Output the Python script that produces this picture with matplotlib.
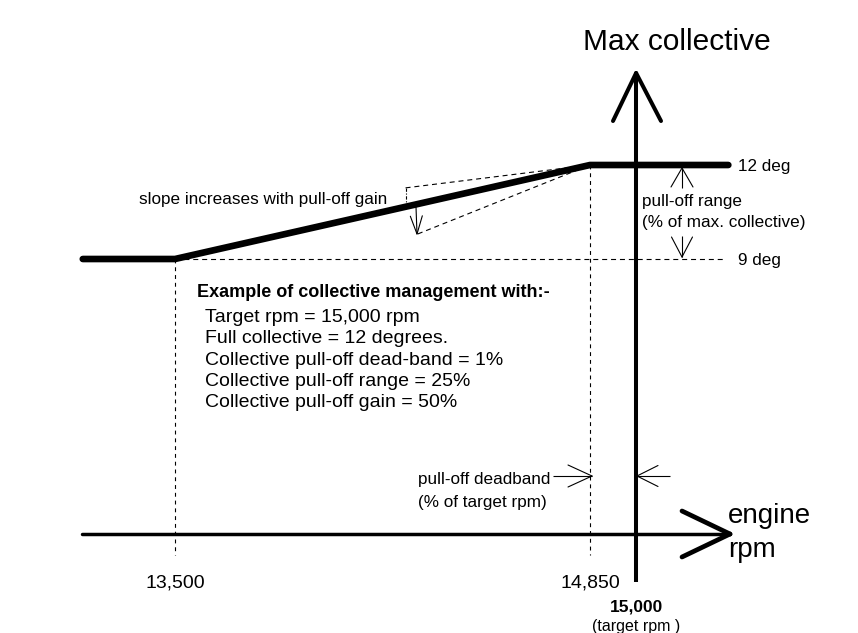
import numpy as np
import matplotlib
matplotlib.use("Agg")
import matplotlib.pyplot as plt

plt.rcParams['font.family'] = ['Liberation Sans', 'DejaVu Sans']

# --- data (rpm / degrees) ---
curve_rpm = [13200, 13500, 14850, 15300]
curve_deg = [9, 9, 12, 12]

target_rpm = 15000
deadband_rpm = 14850
slope_start_rpm = 13500
full_deg = 12
range_deg = 9

# alternative slopes (dashed), start points; both end at (deadband_rpm, full_deg)
alt_rpm = [14250, 14290]
alt_deg = [11.27, 9.80]

tick_rpm = [13500, 14850]
tick_labels = ['13,500', '14,850']
deg_levels = [12, 9]
deg_labels = ['12 deg', '9 deg']

example_title = "Example of collective management with:-"
example_lines = [
    "Target rpm = 15,000 rpm",
    "Full collective = 12 degrees.",
    "Collective pull-off dead-band = 1%",
    "Collective pull-off range = 25%",
    "Collective pull-off gain = 50%",
]

# --- layout: pixel <-> data mapping (axes fills the whole figure) ---
W, H = 858, 633
RPM_PER_PX = (14850 - 13500) / (590 - 175)
DEG_PER_PX = (12 - 9) / (259 - 165)


def px(xp):
    return 13500 + (xp - 175) * RPM_PER_PX


def py(yp):
    return 9 + (259 - yp) * DEG_PER_PX


AXIS_DEG = py(534)
GUIDE_BOTTOM = py(555)

fig = plt.figure(figsize=(W / 100, H / 100), dpi=100)
ax = fig.add_axes([0, 0, 1, 1])
ax.set_xlim(px(0), px(W))
ax.set_ylim(py(H), py(0))
ax.axis('off')


def open_arrow(tip, tail, head_len, head_w, lw):
    """tip/tail in pixel coords; draws an open 'V' arrowhead."""
    tx, ty = tip
    sx, sy = tail
    d = np.array([sx - tx, sy - ty], float)
    d /= np.hypot(*d)
    n = np.array([-d[1], d[0]])
    ax.plot([px(sx), px(tx)], [py(sy), py(ty)], color='black', lw=lw, solid_capstyle='butt')
    for s in (1, -1):
        ex = tx + d[0] * head_len + s * n[0] * head_w
        ey = ty + d[1] * head_len + s * n[1] * head_w
        ax.plot([px(ex), px(tx)], [py(ey), py(ty)], color='black', lw=lw,
                solid_capstyle='round')


# guide lines
dash = (0, (4.5, 3.5))
ax.plot([slope_start_rpm, px(725)], [range_deg, range_deg], color='black', lw=0.8, ls=dash)
for r, top in zip(tick_rpm, [range_deg, full_deg]):
    ax.plot([r, r], [top, GUIDE_BOTTOM], color='black', lw=0.8, ls=(0, (3.5, 3.5)))
for r, d in zip(alt_rpm, alt_deg):
    ax.plot([r, deadband_rpm], [d, full_deg], color='black', lw=0.8, ls=dash)
ax.plot([alt_rpm[0], alt_rpm[0]], [alt_deg[0], py(206)], color='black', lw=0.8,
        ls=(0, (3, 1.5, 1, 1.5)))

# axes
ax.plot([target_rpm, target_rpm], [py(582), py(73)], color='black', lw=2.9, solid_capstyle='butt')
for ex in (613, 661):
    ax.plot([px(ex), target_rpm], [py(121), py(73)], color='black', lw=2.9, solid_capstyle='round')
ax.plot([px(82), px(730)], [AXIS_DEG, AXIS_DEG], color='black', lw=2.5, solid_capstyle='round')
for ey in (511, 557):
    ax.plot([px(682), px(730)], [py(ey), AXIS_DEG], color='black', lw=3.4, solid_capstyle='round')

# collective curve
ax.plot(curve_rpm, curve_deg, color='black', lw=4.8, solid_capstyle='round', solid_joinstyle='round')

# small arrows
open_arrow((417, 234), (416, 207), 18, 6, 0.8)
open_arrow((682, 168), (682, 188), 19, 11, 0.8)
open_arrow((682, 257), (682, 236), 20, 10.5, 0.8)
open_arrow((592, 476), (553, 476), 24, 11, 0.8)
open_arrow((637, 476), (670, 476), 21, 10.5, 0.8)

# texts
txt = dict(color='black', va='baseline')
ax.text(px(583), py(50), "Max collective", fontsize=21.5, ha='left', **txt)
ax.text(px(728), py(523), "engine", fontsize=20, ha='left', **txt)
ax.text(px(728), py(557), "rpm", fontsize=20, ha='left', **txt)

ax.text(px(139), py(204), "slope increases with pull-off gain", fontsize=12.3, ha='left', **txt)
for lvl, lab in zip(deg_levels, deg_labels):
    ax.text(px(738), lvl - 6 * DEG_PER_PX, lab, fontsize=12.3, ha='left', **txt)
ax.text(px(642), py(206), "pull-off range", fontsize=12.3, ha='left', **txt)
ax.text(px(642), py(227), "(% of max. collective)", fontsize=12.3, ha='left', **txt)
ax.text(px(418), py(484), "pull-off deadband", fontsize=12.3, ha='left', **txt)
ax.text(px(418), py(507), "(% of target rpm)", fontsize=12.3, ha='left', **txt)

ax.text(px(197), py(297), example_title, fontsize=13, fontweight='bold', ha='left', **txt)
for i, line in enumerate(example_lines):
    ax.text(px(205), py(322 + i * 21.3), line, fontsize=14, ha='left', **txt)

for r, lab in zip(tick_rpm, tick_labels):
    ax.text(r, py(588), lab, fontsize=14, ha='center', **txt)
ax.text(target_rpm, py(612), "15,000", fontsize=12.5, fontweight='bold', ha='center', **txt)
ax.text(target_rpm, py(631), "(target rpm )", fontsize=11.5, ha='center', **txt)

fig.savefig("out.png", dpi=100, facecolor='white')
